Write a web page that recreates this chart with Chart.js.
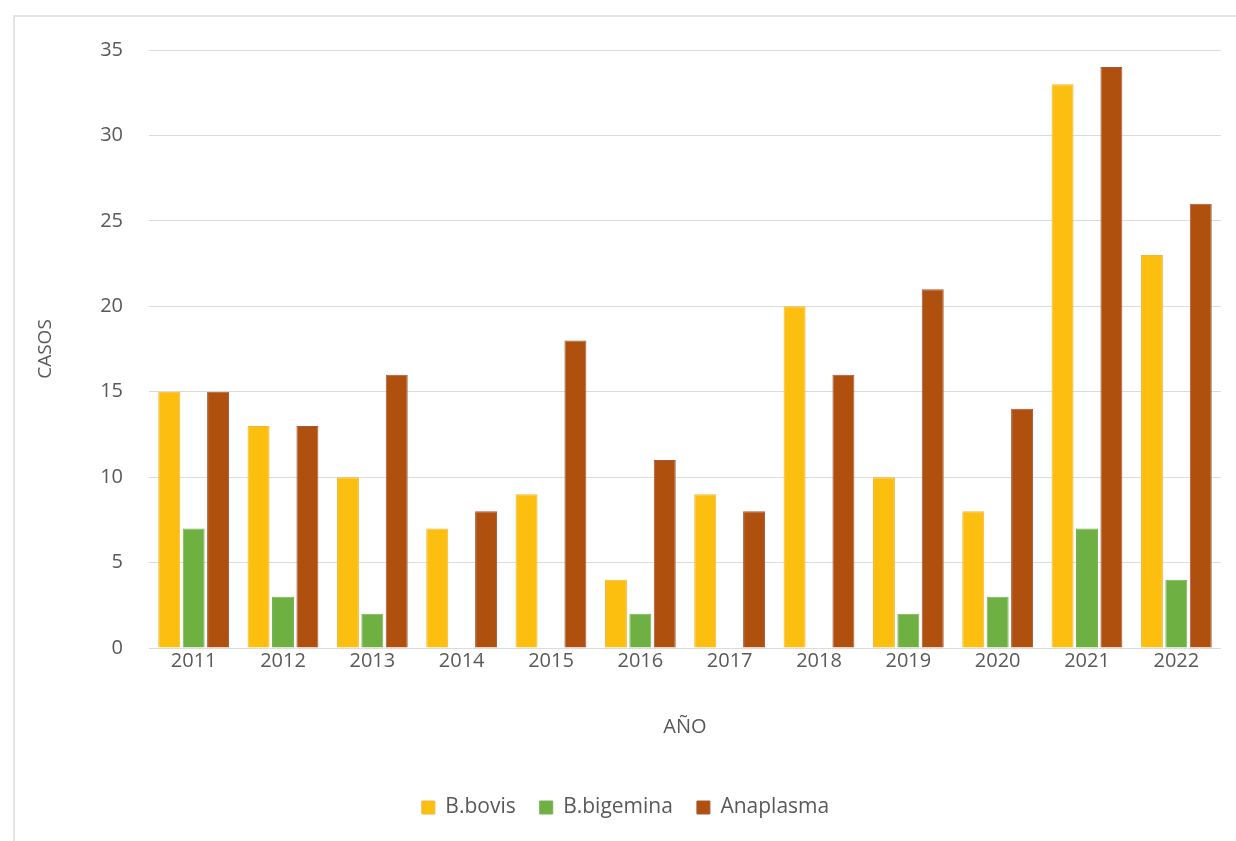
<!DOCTYPE html>
<html>
<head>
<meta charset="utf-8">
<script src="https://cdn.jsdelivr.net/npm/chart.js@4"></script>
<style>
  html, body { margin: 0; padding: 0; background: #fff; }
  #frame {
    position: absolute; left: 13px; top: 15px; width: 1240px; height: 840px;
    border-left: 2px solid #e4e4e4; border-top: 2px solid #e4e4e4;
  }
  canvas { position: absolute; left: 0; top: 0; }
</style>
</head>
<body>
<div id="frame"></div>
<canvas id="casosChart" width="1236" height="841"></canvas>
<script>
const years = ["2011", "2012", "2013", "2014", "2015", "2016", "2017", "2018", "2019", "2020", "2021", "2022"];
const bovis = [15, 13, 10, 7, 9, 4, 9, 20, 10, 8, 33, 23];
const bigemina = [7, 3, 2, 0, 0, 2, 0, 0, 2, 3, 7, 4];
const anaplasma = [15, 13, 16, 8, 18, 11, 8, 16, 21, 14, 34, 26];

const font = "'Open Sans', 'Liberation Sans', sans-serif";
const grey = "#595959";

const casosChart = new Chart(document.getElementById("casosChart"), {
  type: "bar",
  data: {
    labels: years,
    datasets: [
      { label: "B.bovis", data: bovis, backgroundColor: "#fcbf0f", borderColor: "#f2b63a", borderWidth: 1 },
      { label: "B.bigemina", data: bigemina, backgroundColor: "#6fb043", borderColor: "#79b052", borderWidth: 1 },
      { label: "Anaplasma", data: anaplasma, backgroundColor: "#b0500f", borderColor: "#a6583a", borderWidth: 1 },
    ],
  },
  options: {
    responsive: false,
    animation: false,
    layout: { padding: { top: 50, right: 15, bottom: 13, left: 30 } },
    datasets: { bar: { categoryPercentage: 0.82, barPercentage: 0.9 } },
    scales: {
      x: {
        grid: { display: false },
        border: { display: false },
        ticks: { color: grey, font: { family: font, size: 20 }, padding: -7 },
        title: { display: true, text: "AÑO", color: grey, font: { family: font, size: 20 }, padding: { top: 49, bottom: 34 } },
      },
      y: {
        min: 0,
        max: 35,
        ticks: { stepSize: 5, color: grey, font: { family: font, size: 20 }, padding: 26 },
        grid: { color: "#dcdcdc", drawTicks: false },
        border: { display: false },
        title: { display: true, text: "CASOS", color: grey, font: { family: font, size: 19 } },
        afterFit: (scale) => { scale.width = 119; },
      },
    },
    plugins: {
      legend: {
        position: "bottom",
        labels: { color: grey, font: { family: font, size: 21 }, boxWidth: 13, boxHeight: 13, padding: 24 },
      },
      tooltip: { enabled: false },
    },
  },
});
</script>
</body>
</html>
